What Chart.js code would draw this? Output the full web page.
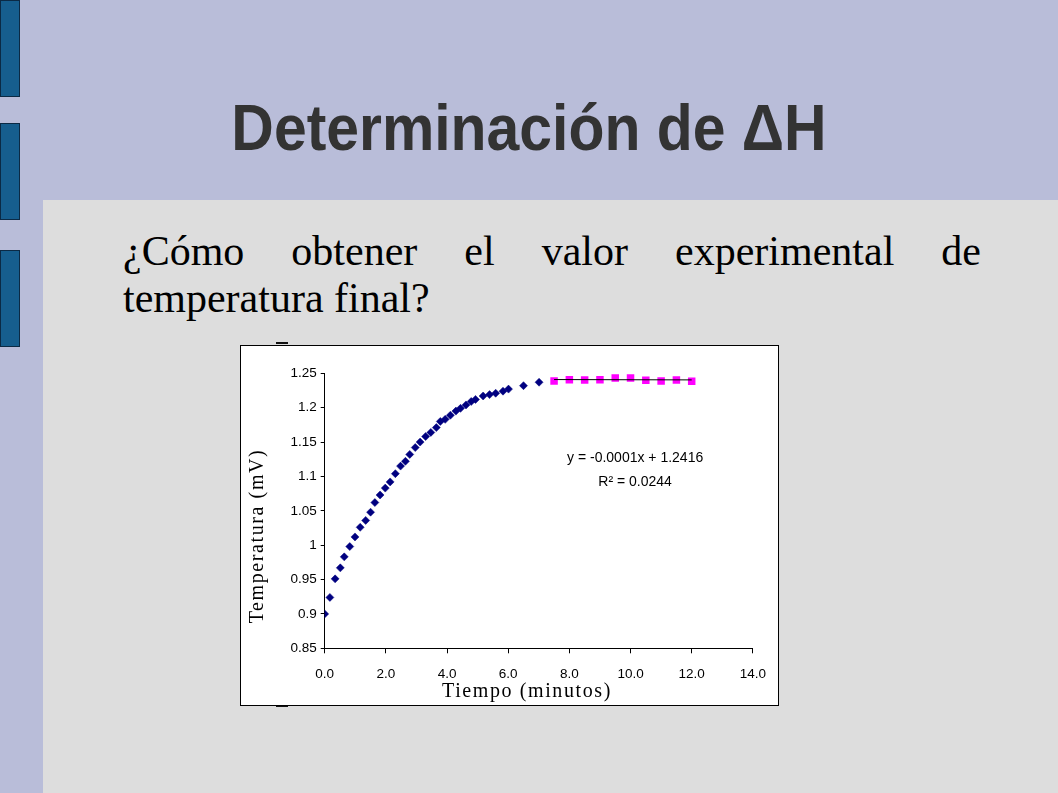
<!DOCTYPE html>
<html>
<head>
<meta charset="utf-8">
<script src="https://cdn.jsdelivr.net/npm/chart.js@4.4.1/dist/chart.umd.min.js"></script>
<style>
  html, body { margin: 0; padding: 0; }
  body { width: 1058px; height: 793px; position: relative; overflow: hidden; background: #dddddd; }
  .band { position: absolute; background: #b9bdd9; }
  .tab { position: absolute; left: 0; width: 18px; height: 95px; background: #165e8e; border: 1px solid #0b2a45; }
  h1 { position: absolute; left: 0; top: 96px; width: 1058px; margin: 0; text-align: center;
       font: bold 64px/64px "Liberation Sans", Arial, sans-serif; color: #333333;
       transform: scaleX(0.92); transform-origin: 529px 0; }
  p.q { position: absolute; left: 123px; top: 228px; width: 858px; margin: 0;
        font: 42px/47px "Liberation Serif", "Times New Roman", serif; color: #000;
        text-align: justify; }
  #box { position: absolute; left: 240px; top: 345px; width: 539px; height: 361px; background: #fff; }
  #frame { position: absolute; left: 240px; top: 345px; width: 539px; height: 361px; box-sizing: border-box;
           border: 1px solid #000; pointer-events: none; }
  .mark { position: absolute; left: 276px; width: 12px; height: 2px; background: #111; }
</style>
</head>
<body>
<div class="band" style="left:0;top:0;width:1058px;height:200px"></div>
<div class="band" style="left:0;top:0;width:43px;height:793px"></div>
<div class="tab" style="top:0"></div>
<div class="tab" style="top:123px"></div>
<div class="tab" style="top:250px"></div>

<h1>Determinación de ΔH</h1>
<p class="q">¿Cómo obtener el valor experimental de temperatura final?</p>

<div class="mark" style="top:342px"></div>
<div class="mark" style="top:705px"></div>
<div id="box"><canvas id="chart" width="539" height="361"></canvas></div>
<div id="frame"></div>

<script>
// heating curve (blue diamonds)
const timeRise = [0, 0.17, 0.34, 0.51, 0.64, 0.82, 0.99, 1.16, 1.34, 1.50, 1.64, 1.81, 1.98, 2.14,
  2.31, 2.48, 2.64, 2.78, 2.96, 3.12, 3.30, 3.47, 3.65, 3.78, 3.94, 4.11, 4.29, 4.44, 4.62, 4.79,
  4.93, 5.18, 5.39, 5.59, 5.83, 6.01, 6.50, 7.01];
const tempRise = [0.900, 0.924, 0.951, 0.967, 0.983, 0.998, 1.012, 1.026, 1.036, 1.048, 1.062, 1.073,
  1.083, 1.092, 1.104, 1.115, 1.122, 1.132, 1.142, 1.150, 1.158, 1.164, 1.171, 1.180, 1.183, 1.189,
  1.195, 1.199, 1.204, 1.209, 1.212, 1.217, 1.219, 1.221, 1.224, 1.227, 1.232, 1.237];

// plateau (pink squares)
const timeFlat = [7.5, 8.0, 8.5, 9.0, 9.5, 10.0, 10.5, 11.0, 11.5, 12.0];
const tempFlat = [1.2388, 1.2407, 1.2403, 1.2407, 1.2432, 1.2432, 1.2398, 1.2388, 1.2403, 1.2384];

// linear trendline ends
const trendX = [7.5, 12.0];
const trendY = [1.2409, 1.2404];

// equation label
const eqLines = ['y = -0.0001x + 1.2416', 'R² = 0.0244'];
const eqX = 10.15;
const eqY = [1.127, 1.091];

const xTicksMin = 0, xTicksMax = 14, xStep = 2;
const yTicksMin = 0.85, yTicksMax = 1.25, yStep = 0.05;

const pts = (xs, ys) => xs.map((x, i) => ({ x: x, y: ys[i] }));

// titles + equation text
const textPlugin = {
  id: 'texts',
  afterDraw(chart) {
    const ctx = chart.ctx;
    const xs = chart.scales.x, ys = chart.scales.y;
    ctx.save();
    ctx.fillStyle = '#000';
    ctx.font = '14px "Liberation Sans", Arial, sans-serif';
    ctx.textAlign = 'center';
    ctx.textBaseline = 'middle';
    eqLines.forEach((t, i) => ctx.fillText(t, xs.getPixelForValue(eqX), ys.getPixelForValue(eqY[i])));

    ctx.font = '20px "Liberation Serif", "Times New Roman", serif';
    if ('letterSpacing' in ctx) ctx.letterSpacing = '1.6px';
    ctx.textBaseline = 'alphabetic';
    ctx.fillText('Tiempo (minutos)', 287, 352);

    ctx.translate(18, 191);
    ctx.rotate(-Math.PI / 2);
    ctx.textBaseline = 'middle';
    ctx.fillText('Temperatura (mV)', 0, 0);
    ctx.restore();
  }
};

const tickFont = { family: '"Liberation Sans", Arial, sans-serif', size: 13.5 };

new Chart(document.getElementById('chart').getContext('2d'), {
  type: 'scatter',
  data: {
    datasets: [
      {
        label: 'trend',
        data: pts(trendX, trendY),
        showLine: true,
        borderColor: '#000',
        borderWidth: 1,
        pointRadius: 0
      },
      {
        label: 'plateau',
        data: pts(timeFlat, tempFlat),
        pointStyle: 'rect',
        pointRadius: 5.3,
        backgroundColor: '#ff00ff',
        borderColor: '#ff00ff',
        borderWidth: 0
      },
      {
        label: 'rise',
        data: pts(timeRise, tempRise),
        pointStyle: 'rectRot',
        pointRadius: 4,
        backgroundColor: '#000080',
        borderColor: '#000080',
        borderWidth: 0.5
      }
    ]
  },
  options: {
    responsive: false,
    animation: false,
    layout: { padding: { top: 28.3, right: 24.7, left: 0, bottom: 0 } },
    plugins: {
      legend: { display: false },
      tooltip: { enabled: false }
    },
    scales: {
      x: {
        type: 'linear',
        min: xTicksMin,
        max: xTicksMax,
        afterFit(s) { s.height = 57.7; },
        ticks: {
          stepSize: xStep,
          color: '#000',
          font: tickFont,
          padding: 13,
          maxRotation: 0,
          callback: v => v.toFixed(1)
        },
        grid: { drawOnChartArea: false, tickLength: 5, color: '#000', tickColor: '#000' },
        border: { display: true, color: '#000', width: 1 }
      },
      y: {
        type: 'linear',
        min: yTicksMin,
        max: yTicksMax,
        afterFit(s) { s.width = 84.7; },
        ticks: {
          stepSize: yStep,
          color: '#000',
          font: tickFont,
          padding: 4,
          callback: v => String(+v.toFixed(2))
        },
        grid: { drawOnChartArea: false, tickLength: 4, color: '#000', tickColor: '#000' },
        border: { display: true, color: '#000', width: 1 }
      }
    }
  },
  plugins: [textPlugin]
});
</script>
</body>
</html>
